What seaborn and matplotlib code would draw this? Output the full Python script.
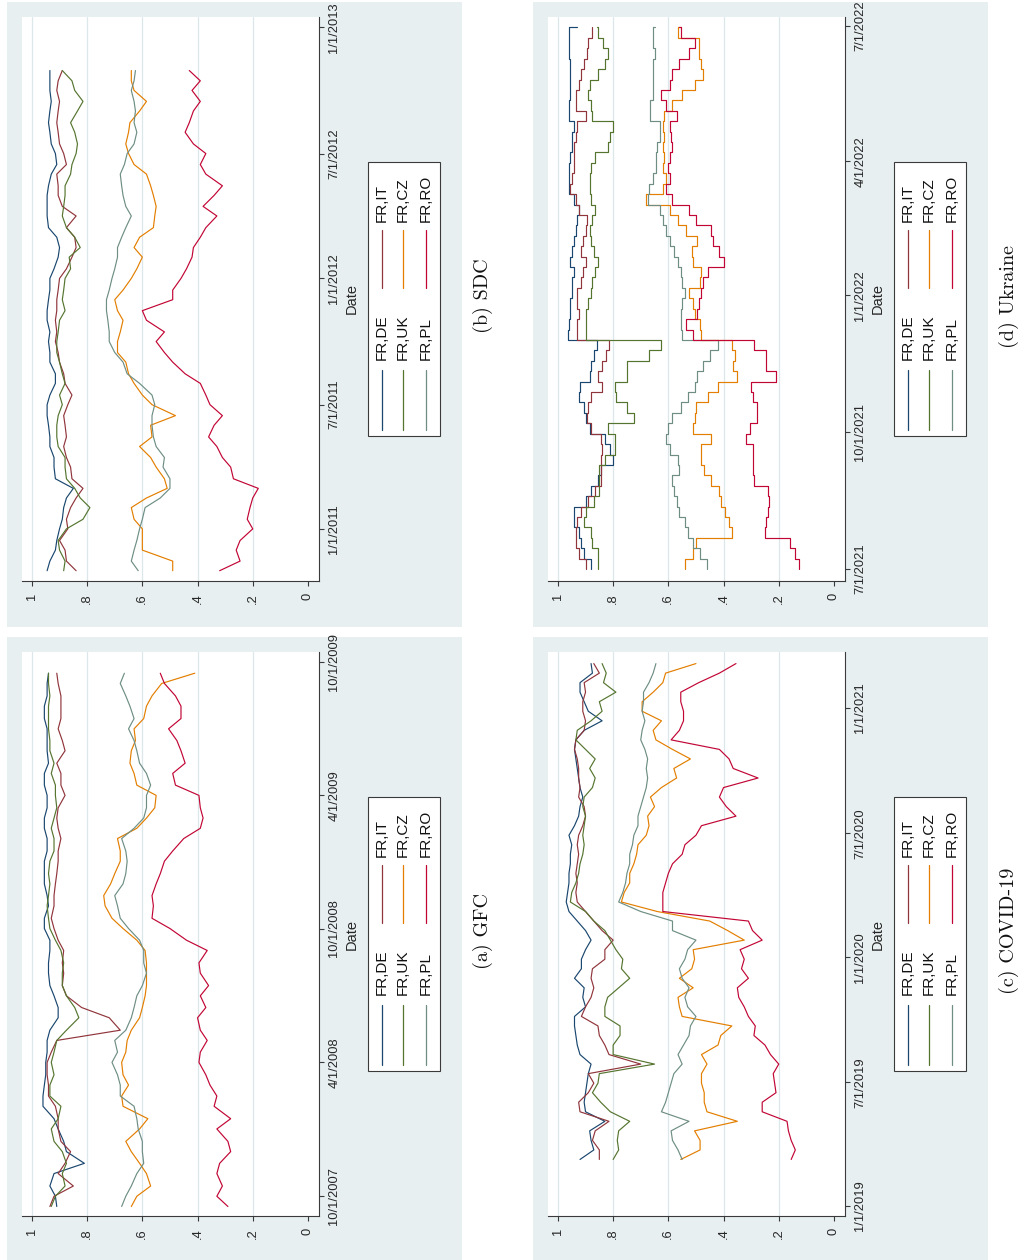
import numpy as np
import pandas as pd
import matplotlib
matplotlib.use("Agg")
import matplotlib.pyplot as plt
import matplotlib.dates as mdates
from matplotlib.lines import Line2D
from matplotlib.patches import Rectangle
import seaborn as sns

sns.set_style("white")
plt.rcParams["font.family"] = ["Liberation Sans", "DejaVu Sans"]

PAIRS = ["FR,DE", "FR,IT", "FR,UK", "FR,CZ", "FR,PL", "FR,RO"]
COLORS = ["#1a476f", "#90353b", "#55752f", "#e37e00", "#6e8e84", "#c10534"]

# ---------------- (a) GFC: semi-monthly readings ----------------
gfc_dates = ["2007-09-17"] + list(pd.date_range("2007-10-01", "2009-09-15", freq="SMS").strftime("%Y-%m-%d"))
gfc_de = [0.91, 0.915, 0.935, 0.92, 0.81, 0.875, 0.885, 0.905, 0.92, 0.96, 0.96, 0.955, 0.95, 0.95, 0.945, 0.945,
          0.935, 0.905, 0.905, 0.92, 0.935, 0.94, 0.94, 0.935, 0.935, 0.955, 0.955, 0.94, 0.945, 0.955, 0.955, 0.955,
          0.945, 0.945, 0.955, 0.955, 0.945, 0.945, 0.955, 0.955, 0.94, 0.945, 0.945, 0.945, 0.955, 0.955, 0.945, 0.945, 0.94]
gfc_it = [0.935, 0.92, 0.85, 0.905, 0.88, 0.86, 0.895, 0.905, 0.905, 0.915, 0.94, 0.94, 0.945, 0.945, 0.93, 0.91,
          0.68, 0.72, 0.82, 0.875, 0.89, 0.885, 0.89, 0.885, 0.905, 0.92, 0.93, 0.92, 0.92, 0.915, 0.91, 0.905,
          0.905, 0.895, 0.905, 0.91, 0.905, 0.88, 0.895, 0.895, 0.91, 0.88, 0.89, 0.905, 0.895, 0.895, 0.895, 0.905, 0.91]
gfc_uk = [0.93, 0.915, 0.88, 0.89, 0.875, 0.89, 0.92, 0.93, 0.905, 0.895, 0.935, 0.935, 0.92, 0.93, 0.92, 0.91,
          0.875, 0.83, 0.845, 0.875, 0.89, 0.89, 0.885, 0.895, 0.915, 0.935, 0.94, 0.945, 0.94, 0.935, 0.94, 0.935,
          0.92, 0.92, 0.93, 0.92, 0.91, 0.915, 0.915, 0.93, 0.92, 0.935, 0.935, 0.94, 0.94, 0.94, 0.935, 0.94, 0.94]
gfc_cz = [0.64, 0.62, 0.57, 0.585, 0.61, 0.64, 0.66, 0.61, 0.58, 0.67, 0.675, 0.65, 0.67, 0.675, 0.66, 0.655,
          0.64, 0.61, 0.60, 0.59, 0.585, 0.585, 0.585, 0.59, 0.62, 0.67, 0.71, 0.735, 0.74, 0.715, 0.70, 0.68,
          0.68, 0.69, 0.62, 0.585, 0.555, 0.55, 0.62, 0.63, 0.645, 0.64, 0.625, 0.63, 0.595, 0.585, 0.565, 0.53, 0.41]
gfc_pl = [0.675, 0.66, 0.64, 0.62, 0.595, 0.60, 0.60, 0.615, 0.62, 0.63, 0.68, 0.68, 0.69, 0.71, 0.69, 0.70,
          0.66, 0.64, 0.63, 0.62, 0.60, 0.585, 0.595, 0.595, 0.61, 0.65, 0.68, 0.69, 0.70, 0.67, 0.66, 0.655,
          0.66, 0.675, 0.63, 0.595, 0.585, 0.585, 0.57, 0.585, 0.61, 0.62, 0.63, 0.65, 0.63, 0.645, 0.66, 0.68, 0.665]
gfc_ro = [0.29, 0.33, 0.31, 0.33, 0.32, 0.28, 0.29, 0.33, 0.28, 0.34, 0.33, 0.355, 0.37, 0.395, 0.39, 0.365,
          0.39, 0.40, 0.37, 0.39, 0.36, 0.39, 0.395, 0.365, 0.44, 0.50, 0.565, 0.56, 0.565, 0.55, 0.535, 0.52,
          0.49, 0.45, 0.39, 0.38, 0.39, 0.395, 0.48, 0.49, 0.445, 0.46, 0.475, 0.505, 0.46, 0.46, 0.48, 0.52, 0.535]
gfc_ticks = ["10/1/2007", "4/1/2008", "10/1/2008", "4/1/2009", "10/1/2009"]

# ---------------- (b) SDC: semi-monthly readings ----------------
sdc_dates = list(pd.date_range("2010-11-01", "2012-10-15", freq="SMS").strftime("%Y-%m-%d")) + ["2012-10-30"]
sdc_de = [0.945, 0.935, 0.915, 0.91, 0.90, 0.89, 0.885, 0.875, 0.85, 0.915, 0.92, 0.92, 0.935, 0.935, 0.94, 0.945,
          0.945, 0.935, 0.915, 0.915, 0.935, 0.935, 0.94, 0.935, 0.945, 0.945, 0.94, 0.935, 0.935, 0.92, 0.905, 0.90,
          0.91, 0.94, 0.945, 0.945, 0.945, 0.94, 0.93, 0.91, 0.915, 0.93, 0.935, 0.94, 0.935, 0.93, 0.935, 0.935, 0.935]
sdc_it = [0.84, 0.875, 0.88, 0.90, 0.87, 0.875, 0.86, 0.84, 0.815, 0.855, 0.86, 0.875, 0.885, 0.875, 0.88, 0.885,
          0.87, 0.855, 0.88, 0.885, 0.90, 0.905, 0.915, 0.91, 0.915, 0.91, 0.91, 0.905, 0.90, 0.875, 0.855, 0.84,
          0.845, 0.875, 0.84, 0.89, 0.905, 0.905, 0.91, 0.875, 0.885, 0.90, 0.905, 0.91, 0.905, 0.90, 0.91, 0.905, 0.89]
sdc_uk = [0.885, 0.88, 0.90, 0.905, 0.875, 0.815, 0.79, 0.825, 0.845, 0.875, 0.88, 0.88, 0.905, 0.91, 0.91, 0.905,
          0.89, 0.90, 0.88, 0.89, 0.90, 0.91, 0.91, 0.905, 0.90, 0.88, 0.89, 0.885, 0.88, 0.86, 0.865, 0.825,
          0.845, 0.875, 0.89, 0.885, 0.88, 0.88, 0.86, 0.855, 0.84, 0.835, 0.845, 0.86, 0.835, 0.815, 0.845, 0.855, 0.89]
sdc_cz = [0.49, 0.49, 0.60, 0.60, 0.60, 0.63, 0.64, 0.585, 0.51, 0.52, 0.55, 0.57, 0.61, 0.565, 0.57, 0.48,
          0.565, 0.60, 0.63, 0.65, 0.66, 0.69, 0.69, 0.68, 0.67, 0.69, 0.70, 0.67, 0.64, 0.62, 0.60, 0.63,
          0.61, 0.56, 0.555, 0.55, 0.56, 0.57, 0.585, 0.63, 0.65, 0.66, 0.65, 0.645, 0.61, 0.585, 0.63, 0.64, 0.64]
sdc_pl = [0.615, 0.64, 0.63, 0.62, 0.61, 0.60, 0.59, 0.535, 0.50, 0.50, 0.525, 0.52, 0.55, 0.56, 0.565, 0.565,
          0.555, 0.565, 0.61, 0.655, 0.67, 0.70, 0.72, 0.72, 0.725, 0.73, 0.73, 0.72, 0.71, 0.70, 0.69, 0.69,
          0.675, 0.66, 0.64, 0.66, 0.67, 0.675, 0.68, 0.665, 0.655, 0.63, 0.62, 0.63, 0.625, 0.63, 0.64, 0.63, 0.625]
sdc_ro = [0.32, 0.246, 0.26, 0.246, 0.20, 0.22, 0.21, 0.20, 0.18, 0.27, 0.28, 0.31, 0.33, 0.36, 0.34, 0.31,
          0.355, 0.37, 0.39, 0.445, 0.49, 0.52, 0.55, 0.52, 0.585, 0.60, 0.49, 0.49, 0.46, 0.44, 0.42, 0.415,
          0.39, 0.37, 0.33, 0.38, 0.34, 0.31, 0.37, 0.39, 0.37, 0.415, 0.445, 0.43, 0.415, 0.39, 0.42, 0.39, 0.43]
sdc_ticks = ["1/1/2011", "7/1/2011", "1/1/2012", "7/1/2012", "1/1/2013"]

# ---------------- (c) COVID-19: fortnightly readings ----------------
cov_dates = list(pd.date_range("2019-03-10", periods=53, freq="14D").strftime("%Y-%m-%d"))
cov_de = [0.92, 0.87, 0.88, 0.885, 0.83, 0.90, 0.905, 0.90, 0.895, 0.89, 0.88, 0.92, 0.93, 0.935, 0.94, 0.94,
          0.90, 0.91, 0.905, 0.94, 0.915, 0.915, 0.90, 0.88, 0.90, 0.93, 0.96, 0.97, 0.965, 0.96, 0.96, 0.955,
          0.955, 0.95, 0.96, 0.94, 0.925, 0.92, 0.91, 0.92, 0.925, 0.93, 0.935, 0.94, 0.935, 0.905, 0.84, 0.89,
          0.905, 0.92, 0.92, 0.875, 0.88]
cov_it = [0.85, 0.85, 0.875, 0.865, 0.815, 0.92, 0.925, 0.89, 0.87, 0.89, 0.70, 0.815, 0.83, 0.85, 0.855, 0.915,
          0.90, 0.88, 0.87, 0.88, 0.875, 0.83, 0.83, 0.80, 0.84, 0.87, 0.90, 0.93, 0.935, 0.93, 0.935, 0.93,
          0.925, 0.93, 0.925, 0.91, 0.90, 0.905, 0.925, 0.92, 0.925, 0.925, 0.93, 0.94, 0.935, 0.905, 0.90, 0.91,
          0.91, 0.90, 0.905, 0.85, 0.87]
cov_uk = [0.80, 0.78, 0.785, 0.78, 0.74, 0.81, 0.845, 0.875, 0.855, 0.85, 0.65, 0.80, 0.80, 0.775, 0.775, 0.83,
          0.83, 0.82, 0.78, 0.74, 0.77, 0.765, 0.79, 0.81, 0.83, 0.87, 0.90, 0.955, 0.95, 0.935, 0.925, 0.92,
          0.91, 0.905, 0.91, 0.905, 0.90, 0.91, 0.905, 0.875, 0.865, 0.885, 0.865, 0.90, 0.935, 0.93, 0.88, 0.84,
          0.85, 0.79, 0.835, 0.825, 0.84]
cov_cz = [0.555, 0.485, 0.485, 0.505, 0.35, 0.46, 0.47, 0.47, 0.48, 0.48, 0.46, 0.48, 0.42, 0.41, 0.37, 0.55,
          0.56, 0.565, 0.51, 0.56, 0.515, 0.505, 0.51, 0.325, 0.385, 0.45, 0.64, 0.77, 0.76, 0.74, 0.74, 0.725,
          0.715, 0.71, 0.68, 0.67, 0.675, 0.65, 0.665, 0.625, 0.57, 0.58, 0.52, 0.585, 0.645, 0.655, 0.625, 0.695,
          0.695, 0.655, 0.62, 0.61, 0.50]
cov_pl = [0.55, 0.565, 0.585, 0.59, 0.525, 0.625, 0.61, 0.60, 0.59, 0.58, 0.55, 0.565, 0.545, 0.525, 0.52, 0.50,
          0.53, 0.54, 0.525, 0.55, 0.56, 0.54, 0.53, 0.50, 0.585, 0.585, 0.70, 0.78, 0.765, 0.755, 0.75, 0.74,
          0.74, 0.73, 0.725, 0.71, 0.71, 0.70, 0.69, 0.68, 0.675, 0.68, 0.675, 0.685, 0.70, 0.695, 0.685, 0.695,
          0.69, 0.69, 0.67, 0.655, 0.645]
cov_ro = [0.155, 0.14, 0.155, 0.165, 0.17, 0.26, 0.26, 0.21, 0.215, 0.22, 0.20, 0.23, 0.25, 0.29, 0.285, 0.31,
          0.325, 0.345, 0.35, 0.31, 0.335, 0.325, 0.34, 0.26, 0.295, 0.31, 0.62, 0.62, 0.62, 0.61, 0.60, 0.585,
          0.55, 0.54, 0.50, 0.48, 0.355, 0.39, 0.415, 0.40, 0.275, 0.365, 0.38, 0.415, 0.59, 0.56, 0.545, 0.545,
          0.555, 0.555, 0.49, 0.415, 0.355]
cov_ticks = ["1/1/2019", "7/1/2019", "1/1/2020", "7/1/2020", "1/1/2021"]

# ---------------- (d) Ukraine: weekly readings ----------------
ukr_dates = list(pd.date_range("2021-07-01", periods=53, freq="7D").strftime("%Y-%m-%d"))
ukr_de = [0.88, 0.905, 0.915, 0.925, 0.94, 0.94, 0.90, 0.88, 0.855, 0.845, 0.80, 0.81, 0.83, 0.885, 0.90, 0.905,
          0.925, 0.92, 0.885, 0.88, 0.87, 0.86, 0.965, 0.96, 0.955, 0.955, 0.95, 0.95, 0.94, 0.955, 0.95, 0.94,
          0.935, 0.93, 0.925, 0.94, 0.96, 0.96, 0.96, 0.955, 0.95, 0.95, 0.94, 0.96, 0.96, 0.955, 0.955, 0.955,
          0.955, 0.96, 0.96, 0.96, 0.93]
ukr_it = [0.90, 0.925, 0.935, 0.935, 0.93, 0.915, 0.89, 0.865, 0.845, 0.845, 0.845, 0.84, 0.845, 0.88, 0.895, 0.89,
          0.88, 0.84, 0.855, 0.84, 0.825, 0.815, 0.93, 0.93, 0.925, 0.93, 0.93, 0.915, 0.91, 0.90, 0.915, 0.91,
          0.90, 0.895, 0.925, 0.935, 0.955, 0.95, 0.94, 0.94, 0.94, 0.935, 0.93, 0.90, 0.935, 0.935, 0.925, 0.915,
          0.905, 0.895, 0.89, 0.875, 0.875]
ukr_uk = [0.855, 0.855, 0.875, 0.88, 0.905, 0.90, 0.87, 0.85, 0.85, 0.85, 0.83, 0.795, 0.795, 0.82, 0.725, 0.75,
          0.79, 0.795, 0.75, 0.75, 0.67, 0.625, 0.90, 0.90, 0.90, 0.89, 0.88, 0.875, 0.865, 0.855, 0.87, 0.88,
          0.885, 0.875, 0.865, 0.88, 0.885, 0.885, 0.88, 0.865, 0.82, 0.81, 0.80, 0.875, 0.88, 0.89, 0.885, 0.855,
          0.83, 0.82, 0.835, 0.855, 0.86]
ukr_cz = [0.54, 0.51, 0.50, 0.37, 0.38, 0.395, 0.41, 0.415, 0.445, 0.47, 0.48, 0.48, 0.445, 0.51, 0.505, 0.50,
          0.455, 0.42, 0.35, 0.365, 0.36, 0.37, 0.48, 0.485, 0.505, 0.51, 0.525, 0.485, 0.48, 0.51, 0.515, 0.495,
          0.535, 0.565, 0.595, 0.68, 0.62, 0.61, 0.62, 0.615, 0.62, 0.615, 0.62, 0.615, 0.585, 0.55, 0.505, 0.475,
          0.48, 0.49, 0.49, 0.565, 0.555]
ukr_pl = [0.46, 0.485, 0.51, 0.53, 0.54, 0.56, 0.57, 0.58, 0.585, 0.56, 0.565, 0.595, 0.61, 0.60, 0.585, 0.555,
          0.53, 0.505, 0.495, 0.475, 0.45, 0.42, 0.55, 0.555, 0.555, 0.55, 0.54, 0.55, 0.555, 0.565, 0.58, 0.595,
          0.61, 0.62, 0.63, 0.675, 0.67, 0.655, 0.645, 0.645, 0.64, 0.63, 0.63, 0.665, 0.665, 0.655, 0.655, 0.655,
          0.655, 0.65, 0.655, 0.655, 0.65]
ukr_ro = [0.125, 0.14, 0.16, 0.25, 0.245, 0.24, 0.235, 0.24, 0.29, 0.295, 0.295, 0.295, 0.32, 0.305, 0.28, 0.28,
          0.295, 0.30, 0.21, 0.245, 0.245, 0.29, 0.51, 0.535, 0.495, 0.49, 0.48, 0.475, 0.455, 0.40, 0.415, 0.44,
          0.445, 0.50, 0.525, 0.585, 0.61, 0.595, 0.60, 0.595, 0.585, 0.59, 0.595, 0.57, 0.61, 0.625, 0.595, 0.585,
          0.56, 0.525, 0.505, 0.555, 0.56]
ukr_ticks = ["7/1/2021", "10/1/2021", "1/1/2022", "4/1/2022", "7/1/2022"]

VALUE_TICKS = [0, 0.2, 0.4, 0.6, 0.8, 1.0]
VALUE_LABELS = ["0", ".2", ".4", ".6", ".8", "1"]

# ---------------- layout (pixel geometry of the rotated page) ----------------
W, H = 1025, 1260
BG = "#e8eff1"
GRID = "#dce7ea"
AXC = "#3a3a3a"


def fx(x):
    return x / W


def fy(y):
    return 1 - y / H


panels = [
    dict(dates=gfc_dates, series=[gfc_de, gfc_it, gfc_uk, gfc_cz, gfc_pl, gfc_ro], ticks=gfc_ticks,
         lim=("2007-09-04", "2009-10-14"), dx=0, dy=635, caption="(a) GFC", steps=False),
    dict(dates=sdc_dates, series=[sdc_de, sdc_it, sdc_uk, sdc_cz, sdc_pl, sdc_ro], ticks=sdc_ticks,
         lim=("2010-10-17", "2013-01-16"), dx=0, dy=0, caption="(b) SDC", steps=False),
    dict(dates=cov_dates, series=[cov_de, cov_it, cov_uk, cov_cz, cov_pl, cov_ro], ticks=cov_ticks,
         lim=("2018-12-17", "2021-03-24"), dx=526, dy=635, caption="(c) COVID-19", steps=False),
    dict(dates=ukr_dates, series=[ukr_de, ukr_it, ukr_uk, ukr_cz, ukr_pl, ukr_ro], ticks=ukr_ticks,
         lim=("2021-06-23", "2022-07-07"), dx=526, dy=0, caption="(d) Ukraine", steps=True),
]

fig = plt.figure(figsize=(W / 100, H / 100), dpi=100)
fig.patch.set_facecolor("white")

for p in panels:
    dx, dy = p["dx"], p["dy"]

    # graph region background
    top = 2 + dy
    bottom = min(627 + dy, H)
    fig.add_artist(Rectangle((fx(7 + dx), fy(bottom)), 455 / W, (bottom - top) / H,
                             transform=fig.transFigure, facecolor=BG, edgecolor="none", zorder=-10))

    ax = fig.add_axes([fx(22 + dx), fy(581 + dy), 297 / W, 564 / H])
    ax.set_facecolor("white")

    d = mdates.date2num(pd.to_datetime(p["dates"]))
    n = len(d)
    df = pd.DataFrame({
        "date": np.tile(d, len(PAIRS)),
        "value": np.concatenate([np.asarray(s, dtype=float) for s in p["series"]]),
        "pair": np.repeat(PAIRS, n),
    })
    # the weekly Ukraine readings are held until the next one (stair-step trace)
    style = dict(drawstyle="steps-pre") if p["steps"] else {}
    sns.lineplot(data=df, x="value", y="date", hue="pair", hue_order=PAIRS, palette=COLORS,
                 estimator=None, sort=False, orient="y", linewidth=0.85, legend=False, ax=ax, **style)

    ax.set_xlim(1.036, -0.04)
    ax.set_ylim(mdates.date2num(pd.Timestamp(p["lim"][0])), mdates.date2num(pd.Timestamp(p["lim"][1])))

    # value axis (drawn along the bottom)
    ax.set_xticks(VALUE_TICKS)
    ax.set_xticklabels(VALUE_LABELS, rotation=90, fontsize=9.3)
    ax.grid(axis="x", color=GRID, linewidth=0.9)
    ax.get_xgridlines()[0].set_visible(False)
    ax.grid(axis="y", visible=False)
    ax.set_axisbelow(True)

    # date axis (drawn along the right)
    ax.yaxis.tick_right()
    ax.yaxis.set_label_position("right")
    tick_pos = mdates.date2num(pd.to_datetime(p["ticks"], format="%m/%d/%Y"))
    ax.set_yticks(tick_pos)
    ax.set_yticklabels(p["ticks"], rotation=90, va="center", fontsize=9.3)
    ax.set_xlabel("")
    ax.set_ylabel("Date", rotation=90, fontsize=10.5, labelpad=3)

    for side in ("top", "left"):
        ax.spines[side].set_visible(False)
    for side in ("bottom", "right"):
        ax.spines[side].set_color(AXC)
        ax.spines[side].set_linewidth(0.8)
    ax.tick_params(axis="x", bottom=True, direction="out", length=3.8, width=0.8, color=AXC, pad=5)
    ax.tick_params(axis="y", right=True, left=False, direction="out", length=3.8, width=0.8, color=AXC, pad=3)

    # legend box (3 rows x 2 columns, rotated with the page)
    fig.add_artist(Rectangle((fx(368 + dx), fy(436 + dy)), 72 / W, 274 / H, transform=fig.transFigure,
                             facecolor="white", edgecolor=AXC, linewidth=0.8, zorder=2))
    col_x = [382, 403, 426]
    for i, name in enumerate(PAIRS):
        cx = col_x[i // 2] + dx
        if i % 2 == 0:
            y0, y1, ty = 430, 370, 360
        else:
            y0, y1, ty = 288, 230, 222
        fig.add_artist(Line2D([fx(cx), fx(cx)], [fy(y0 + dy), fy(y1 + dy)], transform=fig.transFigure,
                              color=COLORS[i], linewidth=0.9, zorder=3))
        fig.text(fx(cx), fy(ty + dy), name, rotation=90, ha="center", va="bottom", fontsize=11,
                 color="#111111", zorder=3)

    # panel caption
    fig.text(fx(483 + dx), fy(296 + dy), p["caption"], rotation=90, ha="center", va="center",
             fontsize=14.5, family=["cmr10", "DejaVu Serif"], color="#111111")

fig.savefig("out.png", dpi=100, facecolor="white")
